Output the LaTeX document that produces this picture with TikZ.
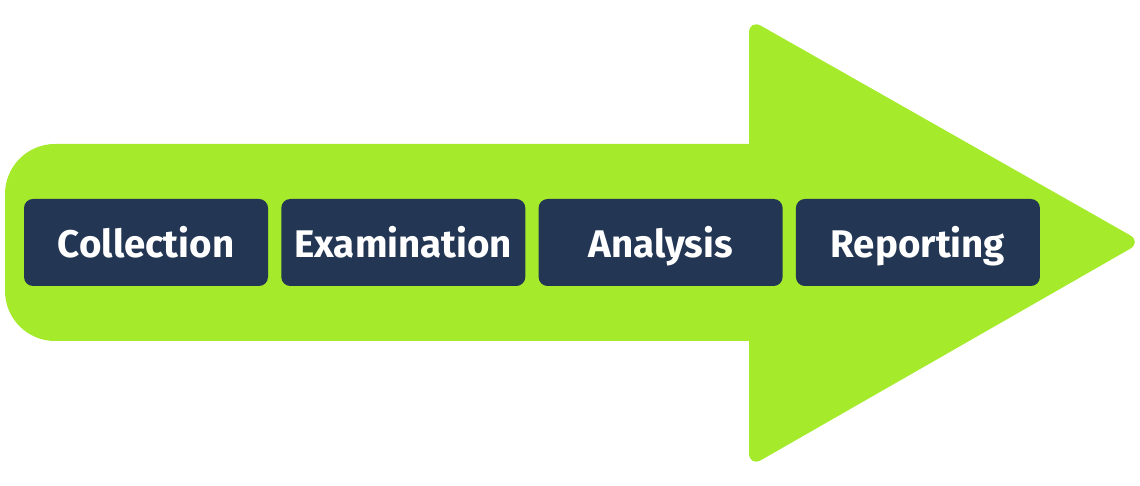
\documentclass[tikz,border=0pt]{standalone}
\usepackage{fontspec}
\setmainfont{Fira Sans}
\definecolor{arrowgreen}{RGB}{165,235,44}
\definecolor{stagenavy}{RGB}{35,54,84}

\tikzset{
	stage/.style={fill=stagenavy, text=white, rounded corners=9pt,
		minimum width=244pt, minimum height=87pt, inner sep=0pt,
		text height=31pt, text depth=0pt,
		font=\fontsize{38.5}{40}\selectfont\bfseries}
}

\begin{document}
\begin{tikzpicture}[x=1pt, y=1pt]
	\useasboundingbox (0,0) rectangle (1140,486);
	% arrow body and head
	\fill [arrowgreen, rounded corners=50pt] (5,145) rectangle (810,342);
	\fill [arrowgreen, rounded corners=14pt] (749,467) -- (1142,244) -- (749,19) -- cycle;
	% stages
	\foreach \name/\txt [count=\i from 0] in {col/Collection, exa/Examination, ana/Analysis, rep/Reporting} {
		\node [stage] (\name) at (146+257.3*\i, 243.5) {\txt};
	}
\end{tikzpicture}
\end{document}
